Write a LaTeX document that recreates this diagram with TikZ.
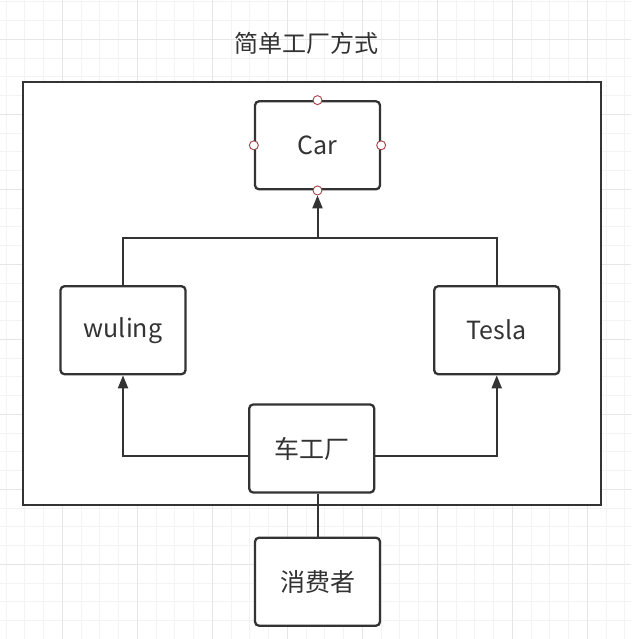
\documentclass[tikz,border=0pt]{standalone}
\usepackage{fontspec}
\setmainfont{Noto Sans CJK SC}
\usetikzlibrary{arrows.meta}
\definecolor{inkgray}{RGB}{51,51,51}
\definecolor{gridminor}{RGB}{243,243,243}
\definecolor{gridmajor}{RGB}{230,230,230}
\definecolor{portred}{RGB}{160,64,72}
\tikzset{box/.style={draw=inkgray, line width=2.3pt, fill=white, rounded corners=4pt,
         minimum width=125pt, minimum height=88pt, inner sep=0pt,
         text=inkgray, font=\fontsize{25}{30}\selectfont},
         port/.style={circle, draw=portred, fill=white, line width=0.9pt,
         minimum size=9pt, inner sep=0pt},
         link/.style={draw=inkgray, line width=2pt},
         arrow/.style={link, -{Triangle[length=13pt,width=10pt]}}}

\begin{document}
\begin{tikzpicture}[x=1pt,y=-1pt]
\useasboundingbox (0,0) rectangle (631,639);
\fill[white] (0,0) rectangle (631,639);

% background grid
\foreach \i in {0,...,33}
  \draw[gridminor, line width=0.8pt] ({6.05+18.75*\i},0) -- ++(0,639);
\foreach \i in {0,...,34}
  \draw[gridminor, line width=0.8pt] (0,{1.8+18.75*\i}) -- ++(631,0);
\foreach \i in {0,...,7}
  \draw[gridmajor, line width=0.8pt] ({62.3+75*\i},0) -- ++(0,639);
\foreach \i in {0,...,8}
  \draw[gridmajor, line width=0.8pt] (0,{39.3+75*\i}) -- ++(631,0);

\node [text=inkgray, font=\fontsize{24}{29}\selectfont] (title) at (306,43) {简单工厂方式};
\draw [inkgray, line width=2.3pt, fill=white] (23,82) rectangle (601,505);

\node [box] (car) at (317.5,145.3) {Car};
\node [box] (wuling) at (123,330.2) {wuling};
\node [box] (tesla) at (496.7,330.2) {Tesla};
\node [box] (factory) at (311.7,448.5) {车工厂};
\node [box] (consumer) at (317.5,581.7) {消费者};

\node [port] (carN) at (car.north) {};
\node [port] (carW) at (car.west) {};
\node [port] (carE) at (car.east) {};
\node [port] (carS) at (car.south) {};

\coordinate (bus) at (317.5,237.7);
\draw [link] (wuling.north) |- (bus) -| (tesla.north);
\draw [arrow] (bus) -- (carS);

\draw [arrow] ([yshift=-7pt]factory.west) -| (wuling.south);
\draw [arrow] ([yshift=-7pt]factory.east) -| (tesla.south);
\draw [link] (consumer.north) -- (consumer.north |- factory.south);

\end{tikzpicture}
\end{document}
